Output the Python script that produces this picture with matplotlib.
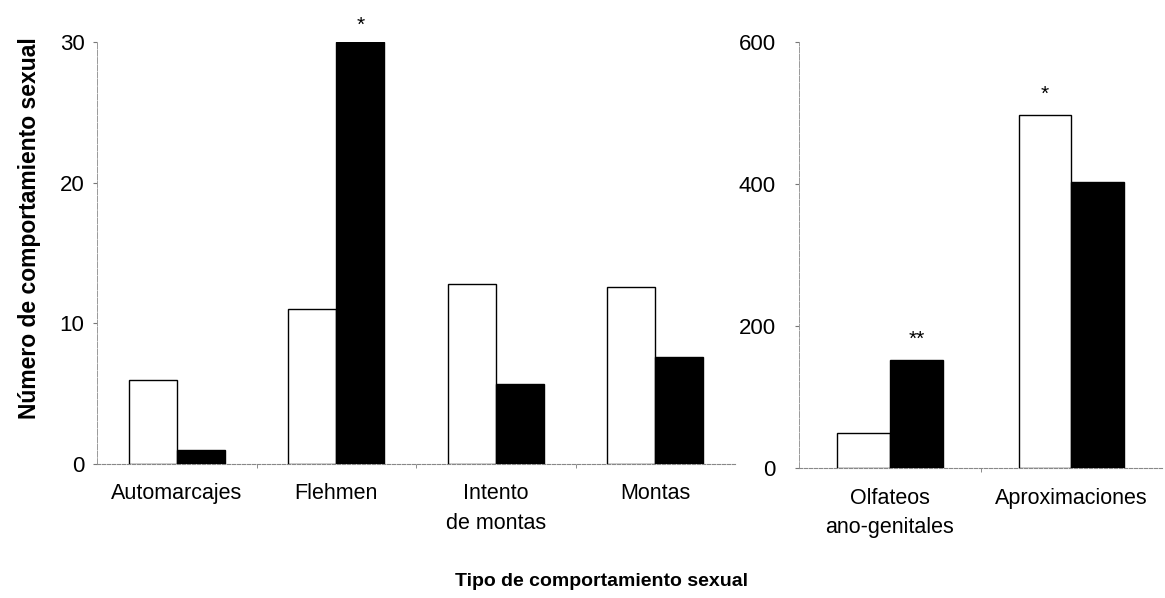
import numpy as np
import matplotlib
matplotlib.use('Agg')
from matplotlib import pyplot as plt
from matplotlib.ticker import FixedLocator

plt.rcParams['font.family'] = ['Liberation Sans', 'DejaVu Sans']

# left panel
cats_left = ['Automarcajes', 'Flehmen', 'Intento\nde montas', 'Montas']
white_left = [6.0, 11.0, 12.8, 12.6]
black_left = [1.0, 30.0, 5.7, 7.6]
stars_left = ['', '*', '', '']        # marks over the black bar

# right panel
cats_right = ['Olfateos\nano-genitales', 'Aproximaciones']
white_right = [49, 498]
black_right = [152, 403]
stars_white_right = ['', '*']
stars_black_right = ['**', '']

ylabel = 'Número de comportamiento sexual'
xlabel = 'Tipo de comportamiento sexual'

fig = plt.figure(figsize=(11.65, 5.98), dpi=100)
ax1 = fig.add_axes([0.0833, 0.224, 0.5476, 0.706])
ax2 = fig.add_axes([0.686, 0.217, 0.3116, 0.712])


def draw_panel(ax, cats, white, black, ylim, yticks, width, pad_y):
    x = np.arange(len(cats))
    ax.bar(x - width / 2, white, width, color='white', edgecolor='black', linewidth=1.0, zorder=3)
    ax.bar(x + width / 2, black, width, color='black', edgecolor='black', linewidth=1.0, zorder=3)
    ax.set_xlim(-0.5, len(cats) - 0.5)
    ax.set_ylim(*ylim)
    ax.set_yticks(yticks)
    ax.set_xticks(x)
    ax.set_xticklabels(cats, fontsize=15.5, linespacing=1.55)
    ax.xaxis.set_minor_locator(FixedLocator(np.arange(0.5, len(cats) - 0.5, 1.0)))
    ax.tick_params(axis='x', which='major', length=0, pad=14)
    ax.tick_params(axis='x', which='minor', length=3, color='#777777', direction='out')
    ax.tick_params(axis='y', length=3, color='#777777', labelsize=16, pad=pad_y)
    for s in ['top', 'right']:
        ax.spines[s].set_visible(False)
    ax.spines['left'].set_color('#999999')
    ax.spines['left'].set_linewidth(0.7)
    ax.spines['left'].set_linestyle((0, (6, 1.5)))
    ax.spines['bottom'].set_color('#888888')
    ax.spines['bottom'].set_linewidth(0.8)
    ax.spines['bottom'].set_linestyle((0, (3, 1.5)))
    return x


x1 = draw_panel(ax1, cats_left, white_left, black_left, (0, 30), [0, 10, 20, 30], 0.3, 6)
x2 = draw_panel(ax2, cats_right, white_right, black_right, (0, 600), [0, 200, 400, 600], 0.29, 14)

for xi, v, s in zip(x1, black_left, stars_left):
    if s:
        ax1.annotate(s, (xi + 0.15, v), xytext=(0, 5), textcoords='offset points',
                     ha='center', va='bottom', fontsize=15, clip_on=False)
for xi, v, s in zip(x2, white_right, stars_white_right):
    if s:
        ax2.annotate(s, (xi - 0.145, v), xytext=(0, 8), textcoords='offset points',
                     ha='center', va='bottom', fontsize=15, clip_on=False)
for xi, v, s in zip(x2, black_right, stars_black_right):
    if s:
        ax2.annotate(s, (xi + 0.145, v), xytext=(0, 8), textcoords='offset points',
                     ha='center', va='bottom', fontsize=15, clip_on=False)

fig.text(0.025, 0.619, ylabel, rotation=90, ha='center', va='center',
         fontsize=16.5, fontweight='bold')
fig.text(0.516, 0.027, xlabel, ha='center', va='center',
         fontsize=14, fontweight='bold')

fig.savefig('out.png', dpi=100)
